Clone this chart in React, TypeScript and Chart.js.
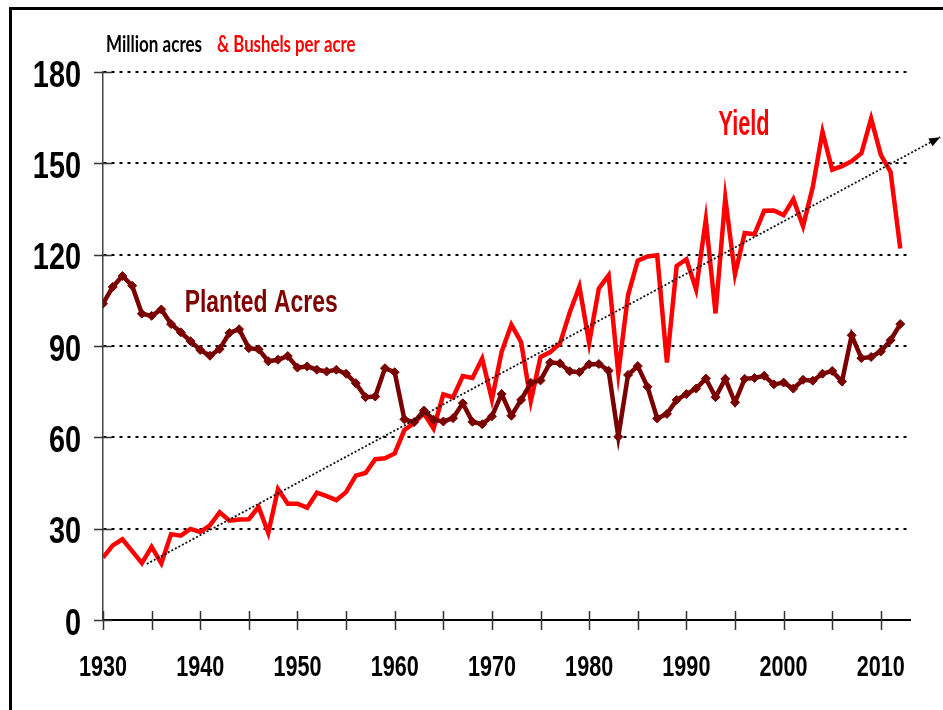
import React, { useEffect, useRef } from "react";
import { Chart, registerables } from "chart.js";

Chart.register(...registerables);

const years = [
  1930, 1931, 1932, 1933, 1934, 1935, 1936, 1937, 1938, 1939,
  1940, 1941, 1942, 1943, 1944, 1945, 1946, 1947, 1948, 1949,
  1950, 1951, 1952, 1953, 1954, 1955, 1956, 1957, 1958, 1959,
  1960, 1961, 1962, 1963, 1964, 1965, 1966, 1967, 1968, 1969,
  1970, 1971, 1972, 1973, 1974, 1975, 1976, 1977, 1978, 1979,
  1980, 1981, 1982, 1983, 1984, 1985, 1986, 1987, 1988, 1989,
  1990, 1991, 1992, 1993, 1994, 1995, 1996, 1997, 1998, 1999,
  2000, 2001, 2002, 2003, 2004, 2005, 2006, 2007, 2008, 2009,
  2010, 2011, 2012,
];

// Yield, bushels per acre
const yieldValues = [
  20.5, 24.5, 26.5, 22.6, 18.7, 24.0, 18.6, 28.2, 27.7, 29.9,
  28.9, 31.1, 35.4, 32.6, 33.0, 33.1, 37.2, 28.6, 43.0, 38.2,
  38.2, 36.9, 41.8, 40.7, 39.4, 42.0, 47.4, 48.3, 52.8, 53.1,
  54.7, 62.4, 64.7, 67.9, 62.9, 74.1, 73.1, 80.1, 79.5, 85.9,
  72.4, 88.1, 97.0, 91.3, 71.9, 86.4, 88.0, 90.8, 101.0, 109.5,
  91.0, 108.9, 113.2, 81.1, 106.7, 118.0, 119.4, 119.8, 84.6, 116.3,
  118.5, 108.6, 131.5, 100.7, 138.6, 113.5, 127.1, 126.7, 134.4, 134.5,
  133.0, 138.2, 129.3, 142.2, 160.3, 147.9, 149.1, 150.7, 153.3, 164.7,
  152.8, 147.2, 122.0,
];

// Planted acres, million acres
const plantedAcres = [
  103.9, 109.4, 113.0, 109.8, 100.6, 99.9, 102.0, 97.2, 94.5, 91.6,
  88.7, 86.8, 89.0, 94.3, 95.5, 89.3, 88.9, 85.0, 85.5, 86.7,
  82.9, 83.3, 82.2, 81.6, 82.2, 80.9, 77.8, 73.2, 73.4, 82.7,
  81.4, 65.9, 65.0, 68.8, 65.8, 65.2, 66.3, 71.2, 65.1, 64.3,
  66.9, 74.2, 67.1, 72.3, 77.9, 78.7, 84.6, 84.3, 81.7, 81.4,
  84.0, 84.1, 81.9, 60.2, 80.5, 83.4, 76.6, 66.2, 67.7, 72.3,
  74.2, 76.0, 79.3, 73.2, 79.2, 71.5, 79.2, 79.5, 80.2, 77.4,
  78.0, 76.0, 78.9, 78.6, 80.9, 81.8, 78.3, 93.5, 86.0, 86.4,
  88.2, 91.9, 97.2,
];

// Dotted trend arrow: start and end (year, value)
const trendYears = [1934.5, 2016.1];
const trendValues = [18.4, 158.6];

const xTickLabels = [1930, 1940, 1950, 1960, 1970, 1980, 1990, 2000, 2010];
const xTickMarks = [
  1930, 1935, 1940, 1945, 1950, 1955, 1960, 1965, 1970, 1975,
  1980, 1985, 1990, 1995, 2000, 2005, 2010,
];
const yTickValues = [0, 30, 60, 90, 120, 150, 180];

const SANS = "'Liberation Sans', Arial, sans-serif";
const TITLE_FONT = "Lato, 'Open Sans', sans-serif";

function drawScaledText(
  ctx: CanvasRenderingContext2D,
  text: string,
  x: number,
  y: number,
  font: string,
  color: string,
  sx: number,
  align: CanvasTextAlign,
  baseline: CanvasTextBaseline
) {
  ctx.save();
  ctx.translate(x, y);
  ctx.scale(sx, 1);
  ctx.font = font;
  ctx.fillStyle = color;
  ctx.textAlign = align;
  ctx.textBaseline = baseline;
  ctx.fillText(text, 0, 0);
  ctx.restore();
}

const overlayPlugin = {
  id: "overlay",
  afterDraw(chart: any) {
    const { ctx, chartArea, scales } = chart;
    const x = scales.x;
    const y = scales.y;
    ctx.save();
    // crossing tick marks
    ctx.strokeStyle = "#333";
    ctx.lineWidth = 1.5;
    ctx.beginPath();
    for (const v of yTickValues) {
      const py = Math.round(y.getPixelForValue(v)) + 0.5;
      ctx.moveTo(chartArea.left - 9, py);
      ctx.lineTo(chartArea.left + 9, py);
    }
    for (const yr of xTickMarks) {
      const px = Math.round(x.getPixelForValue(yr)) + 0.5;
      ctx.moveTo(px, chartArea.bottom - 9);
      ctx.lineTo(px, chartArea.bottom + 10);
    }
    ctx.stroke();

    // tick labels from the scales' ticks (narrowed)
    y.ticks.forEach((t: any, i: number) => {
      const py = y.getPixelForTick(i);
      drawScaledText(ctx, String(t.value), chartArea.left - 22, py + 14.5,
        `bold 37px ${SANS}`, "#000", 0.78, "right", "alphabetic");
    });
    x.ticks.forEach((t: any, i: number) => {
      const px = x.getPixelForTick(i);
      drawScaledText(ctx, String(t.value), px, chartArea.bottom + 56,
        `bold 30px ${SANS}`, "#000", 0.72, "center", "alphabetic");
    });

    // trend arrowhead
    const x0 = x.getPixelForValue(trendYears[0]);
    const y0 = y.getPixelForValue(trendValues[0]);
    const x1 = x.getPixelForValue(trendYears[1]);
    const y1 = y.getPixelForValue(trendValues[1]);
    const len = Math.hypot(x1 - x0, y1 - y0);
    const ux = (x1 - x0) / len;
    const uy = (y1 - y0) / len;
    const bx = x1 - ux * 11;
    const by = y1 - uy * 11;
    ctx.fillStyle = "#000";
    ctx.beginPath();
    ctx.moveTo(x1, y1);
    ctx.lineTo(bx - uy * 4.5, by + ux * 4.5);
    ctx.lineTo(bx + uy * 4.5, by - ux * 4.5);
    ctx.closePath();
    ctx.fill();

    // header units
    drawScaledText(ctx, "Million acres", chartArea.left + 3, chartArea.top - 20.5,
      `bold 23px ${TITLE_FONT}`, "#000", 0.74, "left", "alphabetic");
    drawScaledText(ctx, "& Bushels per acre", chartArea.left + 114, chartArea.top - 20.5,
      `bold 23px ${TITLE_FONT}`, "#ff0000", 0.73, "left", "alphabetic");

    // series annotations
    drawScaledText(ctx, "Planted Acres", x.getPixelForValue(1938.4), y.getPixelForValue(101.2),
      `bold 32px ${SANS}`, "#800000", 0.717, "left", "alphabetic");
    drawScaledText(ctx, "Yield", x.getPixelForValue(1993.3), y.getPixelForValue(159.3),
      `bold 35px ${SANS}`, "#ff0000", 0.62, "left", "alphabetic");
    ctx.restore();
  },
};

export default function App() {
  const ref = useRef<HTMLCanvasElement | null>(null);

  useEffect(() => {
    if (!ref.current) return;
    const chart = new Chart(ref.current, {
      type: "line",
      data: {
        datasets: [
          {
            label: "Trend",
            data: trendYears.map((yr, i) => ({ x: yr, y: trendValues[i] })),
            borderColor: "#111",
            borderWidth: 1.8,
            borderDash: [2, 2],
            pointRadius: 0,
            clip: false,
            order: 0,
          } as any,
          {
            label: "Planted Acres",
            data: years.map((yr, i) => ({ x: yr, y: plantedAcres[i] })),
            borderColor: "#7a0000",
            backgroundColor: "#7a0000",
            borderWidth: 4.5,
            pointStyle: "rectRot",
            pointRadius: 4.5,
            pointBackgroundColor: "#7a0000",
            pointBorderColor: "#7a0000",
            pointBorderWidth: 1,
            tension: 0,
            order: 1,
          },
          {
            label: "Yield",
            data: years.map((yr, i) => ({ x: yr, y: yieldValues[i] })),
            borderColor: "#ff0000",
            backgroundColor: "#ff0000",
            borderWidth: 4.5,
            pointRadius: 0,
            tension: 0,
            order: 2,
          },
        ],
      },
      options: {
        animation: false,
        responsive: false,
        devicePixelRatio: 1,
        layout: { padding: { top: 72, right: 33, bottom: 0, left: 0 } },
        plugins: {
          legend: { display: false },
          tooltip: { enabled: false },
        },
        scales: {
          x: {
            type: "linear",
            min: 1930,
            max: 2013,
            afterBuildTicks: (s: any) => {
              s.ticks = xTickLabels.map((v) => ({ value: v, label: String(v) }));
            },
            afterFit: (s: any) => {
              s.height = 90;
            },
            grid: { display: false, drawTicks: false },
            border: { display: true, color: "#000", width: 2 },
            ticks: { display: false, autoSkip: false, maxRotation: 0 },
          },
          y: {
            type: "linear",
            min: 0,
            max: 180,
            afterBuildTicks: (s: any) => {
              s.ticks = yTickValues.map((v) => ({ value: v, label: String(v) }));
            },
            afterFit: (s: any) => {
              s.width = 103;
            },
            grid: {
              drawTicks: false,
              lineWidth: 2,
              color: (c: any) => (c.tick && c.tick.value === 0 ? "rgba(0,0,0,0)" : "#000"),
            },
            border: { display: true, color: "#444", width: 1.5, dash: [3, 5] },
            ticks: { display: false },
          },
        },
      },
      plugins: [overlayPlugin],
    } as any);
    return () => chart.destroy();
  }, []);

  return (
    <div
      style={{
        position: "fixed",
        left: 0,
        top: 0,
        width: 943,
        height: 710,
        background: "#fff",
        overflow: "hidden",
      }}
    >
      <div
        style={{
          position: "absolute",
          left: 9,
          top: 7,
          right: -20,
          bottom: -20,
          borderLeft: "3px solid #000",
          borderTop: "3px solid #000",
        }}
      />
      <canvas
        ref={ref}
        width={943}
        height={710}
        style={{ position: "absolute", left: 0, top: 0, width: 943, height: 710 }}
      />
    </div>
  );
}
